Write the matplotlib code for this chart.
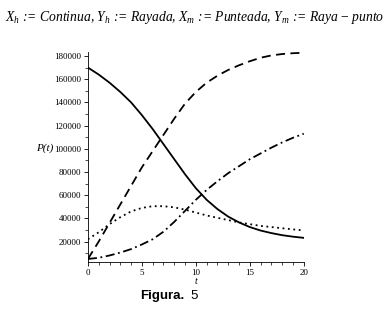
import numpy as np
import matplotlib.pyplot as plt
from matplotlib.ticker import MultipleLocator

plt.rcParams['mathtext.fontset'] = 'custom'
plt.rcParams['mathtext.it'] = 'Liberation Serif:italic'
plt.rcParams['mathtext.rm'] = 'Liberation Serif'

# Values
t = list(range(0, 21))
x_h = [170000, 164000, 157000, 149000, 140000, 129000, 117000, 104000, 91000,
       78000, 66000, 56000, 48000, 41500, 36500, 32500, 29500, 27300, 25500,
       24200, 23200]
y_h = [5000, 20000, 36000, 52000, 68000, 84000, 98000, 112000, 126000, 139000,
       149000, 157000, 163000, 168000, 172000, 175500, 178500, 180500, 181700,
       182400, 182800]
x_m = [22000, 28000, 35000, 41000, 46000, 49000, 50500, 50500, 49500, 47500,
       45000, 42500, 40500, 38500, 36500, 35000, 33500, 32500, 31500, 30500,
       29600]
y_m = [5000, 6000, 8000, 10500, 13500, 17500, 22000, 28500, 37000, 46500,
       56000, 64500, 72000, 79000, 85000, 91000, 96000, 101000, 105500, 109500,
       113000]

title = (r"$X_h$ := Continua, $Y_h$ := Rayada, $X_m$ := Punteada, "
         r"$Y_m$ := Raya $-$ punto")

fig = plt.figure(figsize=(3.89, 3.11), dpi=100)
ax = fig.add_axes([0.226, 0.158, 0.555, 0.675])

ax.plot(t, x_h, color='black', lw=1.3, linestyle='-')
ax.plot(t, y_h, color='black', lw=1.3, linestyle=(0, (5, 3)))
ax.plot(t, x_m, color='black', lw=1.3, linestyle=(0, (1, 2)))
ax.plot(t, y_m, color='black', lw=1.3, linestyle=(0, (5, 2, 1, 2)))

ax.set_xlim(0, 20)
ax.set_ylim(2500, 183500)
ax.spines['top'].set_visible(False)
ax.spines['right'].set_visible(False)
ax.spines['left'].set_linewidth(0.6)
ax.spines['bottom'].set_linewidth(0.6)

ax.xaxis.set_major_locator(MultipleLocator(5))
ax.xaxis.set_minor_locator(MultipleLocator(1))
ax.yaxis.set_major_locator(MultipleLocator(20000))
ax.yaxis.set_minor_locator(MultipleLocator(10000))
ax.tick_params(which='major', length=3, width=0.6, pad=2, labelsize=6.5)
ax.tick_params(which='minor', length=2, width=0.5)
for lab in ax.get_xticklabels() + ax.get_yticklabels():
    lab.set_family('Liberation Serif')

ax.set_xlabel('t', family='Liberation Serif', style='italic', fontsize=7,
              labelpad=0)
ax.set_ylabel('P(t)', family='Liberation Serif', style='italic', fontsize=8,
              rotation=0, ha='center', va='center')
ax.yaxis.set_label_coords(-0.2, 0.54)

fig.text(0.5, 0.945, title, ha='center', va='center', fontsize=9.8,
         family='Liberation Serif', style='italic')
fig.text(0.475, 0.048, 'Figura.', ha='right', va='center', fontsize=9.5,
         family='Liberation Sans', weight='bold')
fig.text(0.49, 0.048, '5', ha='left', va='center', fontsize=9.5,
         family='Liberation Sans')

fig.savefig('out.png', dpi=100)
